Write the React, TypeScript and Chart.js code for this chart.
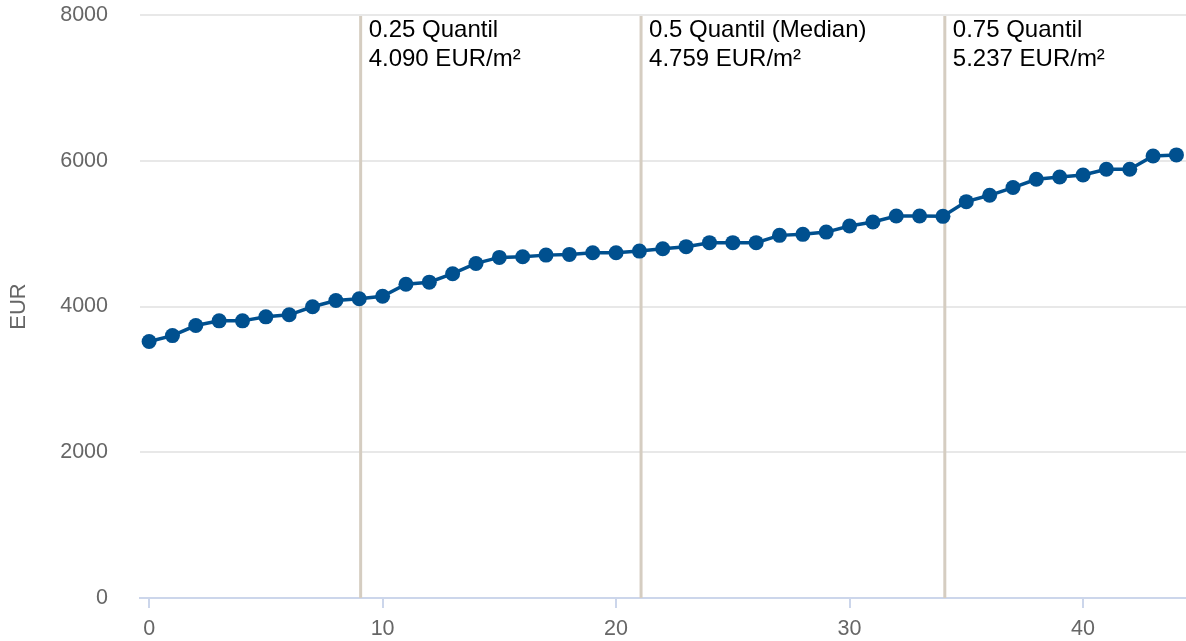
import React, { useEffect, useRef } from "react";
import { Chart, registerables } from "chart.js";

Chart.register(...registerables);

const xValues = [
  0, 1, 2, 3, 4, 5, 6, 7, 8, 9, 10, 11, 12, 13, 14, 15, 16, 17, 18, 19, 20, 21, 22,
  23, 24, 25, 26, 27, 28, 29, 30, 31, 32, 33, 34, 35, 36, 37, 38, 39, 40, 41, 42, 43, 44,
];
const priceValues = [
  3519, 3601, 3739, 3803, 3803, 3858, 3886, 3996, 4082, 4106, 4141, 4306, 4334, 4450,
  4591, 4674, 4683, 4705, 4715, 4738, 4738, 4760, 4793, 4821, 4876, 4876, 4876, 4976,
  4990, 5021, 5104, 5159, 5241, 5241, 5237, 5439, 5526, 5632, 5746, 5777, 5805, 5883,
  5883, 6066, 6080,
];
const xTickValues = [0, 10, 20, 30, 40];
const yTickValues = [0, 2000, 4000, 6000, 8000];
const quantilePositions = [9.06, 21.07, 34.08];
const quantileTitles = ["0.25 Quantil", "0.5 Quantil (Median)", "0.75 Quantil"];
const quantileValues = ["4.090 EUR/m²", "4.759 EUR/m²", "5.237 EUR/m²"];

const FONT = '"Liberation Sans", Arial, Helvetica, sans-serif';

const quantilePlugin = {
  id: "quantiles",
  beforeDatasetsDraw(chart: any) {
    const { ctx, chartArea, scales } = chart;
    const xs = scales.x;
    ctx.save();
    quantilePositions.forEach((qp, i) => {
      const px = xs.getPixelForValue(qp);
      ctx.strokeStyle = "#d5cdc1";
      ctx.lineWidth = 3;
      ctx.beginPath();
      ctx.moveTo(px, chartArea.top + 1);
      ctx.lineTo(px, chartArea.bottom);
      ctx.stroke();
      ctx.fillStyle = "#000";
      ctx.font = `24px ${FONT}`;
      ctx.textAlign = "left";
      ctx.textBaseline = "alphabetic";
      ctx.fillText(quantileTitles[i], px + 8, chartArea.top + 22);
      ctx.fillText(quantileValues[i], px + 8, chartArea.top + 51);
    });
    ctx.restore();
  },
};

export default function App() {
  const canvasRef = useRef<HTMLCanvasElement | null>(null);

  useEffect(() => {
    const canvas = canvasRef.current;
    if (!canvas) return;
    const chart = new Chart(canvas, {
      type: "line",
      data: {
        datasets: [
          {
            label: "EUR",
            data: xValues.map((x, i) => ({ x, y: priceValues[i] })),
            borderColor: "#00508f",
            backgroundColor: "#00508f",
            pointBackgroundColor: "#00508f",
            pointBorderColor: "#00508f",
            pointRadius: 7.5,
            pointBorderWidth: 0,
            borderWidth: 3.5,
            tension: 0,
            clip: false as any,
          },
        ],
      },
      options: {
        animation: false,
        responsive: false,
        devicePixelRatio: 1,
        layout: { autoPadding: false, padding: { top: 15, right: 0, bottom: 0, left: 0 } },
        plugins: {
          legend: { display: false },
          tooltip: { enabled: false },
        },
        scales: {
          x: {
            type: "linear",
            min: -0.39,
            max: 44.41,
            afterBuildTicks: (s: any) => {
              s.ticks = xTickValues.map((v) => ({ value: v }));
            },
            afterFit: (s: any) => {
              s.height = 43;
              s.paddingLeft = 0;
              s.paddingRight = 0;
            },
            grid: {
              drawOnChartArea: false,
              drawTicks: true,
              tickLength: 10,
              color: "#ccd6eb",
              lineWidth: 2,
            },
            border: { color: "#ccd6eb", width: 2 },
            ticks: {
              color: "#666666",
              padding: 8,
              maxRotation: 0,
              font: { size: 21.5, family: FONT },
              callback: (v: any) => String(v),
            },
          },
          y: {
            type: "linear",
            min: 0,
            max: 8000,
            afterBuildTicks: (s: any) => {
              s.ticks = yTickValues.map((v) => ({ value: v }));
            },
            afterFit: (s: any) => {
              s.width = 140;
              s.paddingTop = 0;
              s.paddingBottom = 0;
            },
            grid: {
              drawTicks: false,
              lineWidth: 2,
              color: (c: any) => (c.tick && c.tick.value === 0 ? "rgba(0,0,0,0)" : "#e8e8e8"),
            },
            border: { display: false },
            ticks: {
              color: "#666666",
              padding: 32,
              font: { size: 21.5, family: FONT },
              callback: (v: any) => String(v),
            },
            title: {
              display: true,
              text: "EUR",
              color: "#666666",
              font: { size: 22, family: FONT },
              padding: { top: 5.4, bottom: 0 },
            },
          },
        },
      },
      plugins: [quantilePlugin],
    });
    return () => chart.destroy();
  }, []);

  return (
    <div
      style={{
        position: "fixed",
        left: 0,
        top: 0,
        width: 1186,
        height: 641,
        background: "#ffffff",
      }}
    >
      <canvas ref={canvasRef} width={1186} height={641} style={{ display: "block" }} />
    </div>
  );
}
